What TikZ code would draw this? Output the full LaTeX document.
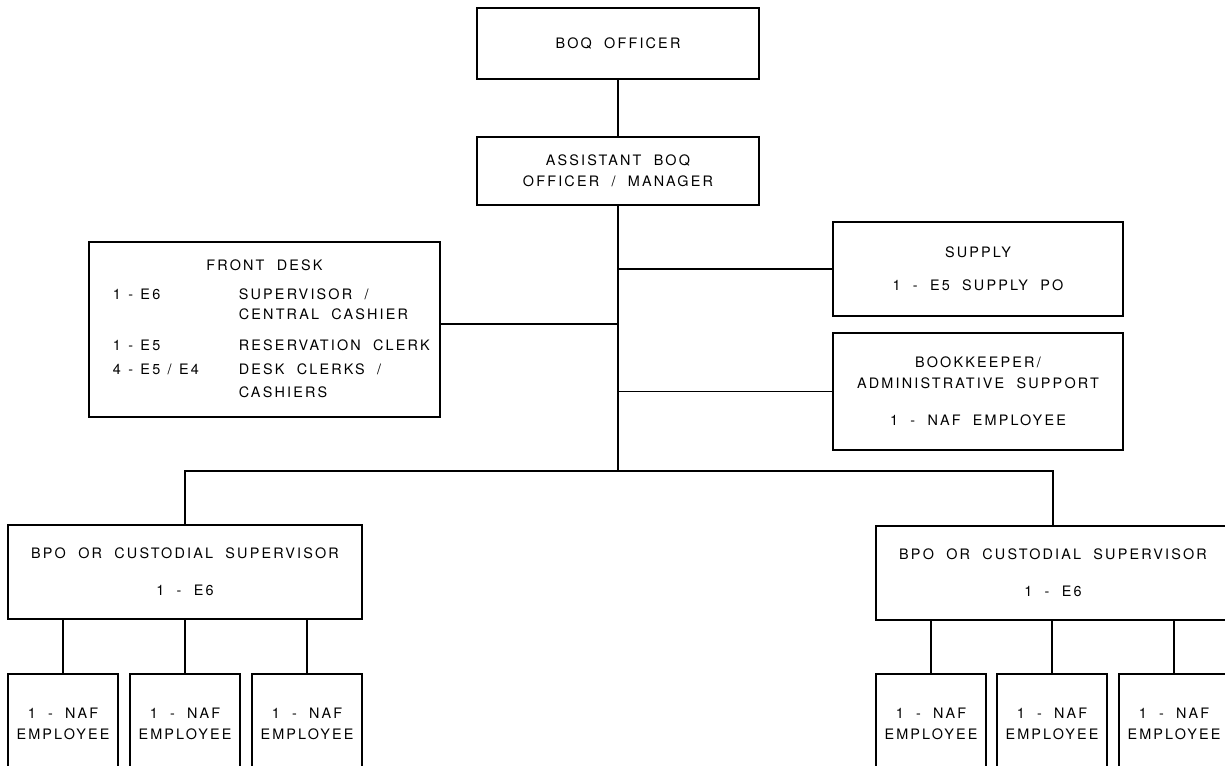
\documentclass[tikz,border=0pt]{standalone}
\usepackage{fontspec}
\setmainfont{TeX Gyre Heros}[LetterSpace=15,WordSpace=2]
\newfontfamily\numfont{TeX Gyre Heros}[LetterSpace=15,WordSpace=1.2]
\begin{document}
\begin{tikzpicture}[x=0.02cm,y=-0.02cm,line width=1pt,
  box/.style={draw,line width=0.9pt,inner sep=0pt,align=center,font=\fontsize{8.2}{12}\selectfont},
  txt/.style={inner sep=0pt,font=\fontsize{8.2}{12}\selectfont},
  numtxt/.style={inner sep=0pt,font=\numfont\fontsize{8.2}{12}\selectfont},
  link/.style={draw,line width=1pt}]
\useasboundingbox (0,0) rectangle (1225,766);
\clip (0,0) rectangle (1225,766);

% top boxes
\node[box,minimum width=5.64cm,minimum height=1.42cm] (boq) at (618,43.5) {BOQ OFFICER};
\node[box,minimum width=5.64cm,minimum height=1.36cm] (asst) at (618,171) {ASSISTANT BOQ\\OFFICER / MANAGER};

% front desk
\node[box,minimum width=7.02cm,minimum height=3.5cm] (fd) at (264.5,329.5) {};
\node[txt,anchor=base] (fdt) at (264.5,271) {FRONT DESK};
\node[numtxt,anchor=base west] (fda1) at (112,300) {1 - E6};
\node[txt,anchor=base west] (fdb1) at (238,300) {SUPERVISOR /};
\node[txt,anchor=base west] (fdb2) at (238,320) {CENTRAL CASHIER};
\node[numtxt,anchor=base west] (fda3) at (112,351) {1 - E5};
\node[txt,anchor=base west] (fdb3) at (238,351) {RESERVATION CLERK};
\node[numtxt,anchor=base west] (fda4) at (112,375) {4 - E5 / E4};
\node[txt,anchor=base west] (fdb4) at (238,375) {DESK CLERKS /};
\node[txt,anchor=base west] (fdb5) at (238,398) {CASHIERS};

% right side boxes
\node[box,minimum width=5.8cm,minimum height=1.88cm] (supply) at (978,269) {SUPPLY\\[7pt]1 - E5 SUPPLY PO};
\node[box,minimum width=5.8cm,minimum height=2.34cm] (bk) at (978,391.5) {BOOKKEEPER/\\ADMINISTRATIVE SUPPORT\\[9pt]1 - NAF EMPLOYEE};

% supervisors
\node[box,minimum width=7.08cm,minimum height=1.88cm] (bpoL) at (185,572) {BPO OR CUSTODIAL SUPERVISOR\\[9pt]1 - E6};
\node[box,minimum width=7.08cm,minimum height=1.88cm] (bpoR) at (1053,573) {BPO OR CUSTODIAL SUPERVISOR\\[9pt]1 - E6};

% employees
\foreach \n/\x in {eL1/63,eL2/185,eL3/307,eR1/931,eR2/1052,eR3/1174}{
  \node[box,minimum width=2.2cm,minimum height=1.98cm] (\n) at (\x,723.5) {1 - NAF\\EMPLOYEE};
}

% connectors
\coordinate (bus) at (618,471);
\coordinate (jfd) at (618,324);
\draw[link] (boq.south) -- (asst.north);
\draw[link] (asst.south) -- (bus);
\draw[link] (supply.west) -- (supply.west -| asst.south);
\draw[link] (bk.west) -- (bk.west -| asst.south);
\draw[link] (jfd) -- (jfd -| fd.east);
\draw[link] (bpoL.north) -- (bpoL.north |- bus) -- (bpoR.north |- bus) -- (bpoR.north);
\foreach \n in {eL1,eL2,eL3}{\draw[link] (\n.north) -- (\n.north |- bpoL.south);}
\foreach \n in {eR1,eR2,eR3}{\draw[link] (\n.north) -- (\n.north |- bpoR.south);}
\end{tikzpicture}
\end{document}
